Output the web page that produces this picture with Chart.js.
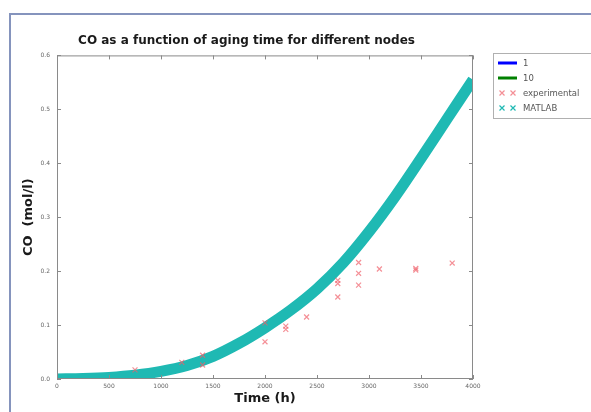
<!DOCTYPE html>
<html>
<head>
<meta charset="utf-8">
<script src="https://cdn.jsdelivr.net/npm/chart.js@4.4.1/dist/chart.umd.min.js"></script>
<style>
  body { margin: 0; background: #fff; }
  #wrap { position: relative; width: 591px; height: 412px; overflow: hidden; }
  #frame { position: absolute; left: 9px; top: 13px; width: 700px; height: 500px;
           border-left: 2px solid #8594bd; border-top: 2px solid #8594bd; pointer-events: none; }
</style>
</head>
<body>
<div id="wrap">
  <canvas id="coChart" width="591" height="412"></canvas>
  <div id="frame"></div>
</div>
<script>
// MATLAB model curve
const matlabTime = [0, 250, 500, 750, 1000, 1250, 1500, 1750, 2000, 2250, 2500, 2750, 3000, 3250, 3500, 3750, 4000];
const matlabCO   = [0.000, 0.001, 0.003, 0.007, 0.014, 0.025, 0.042, 0.066, 0.095, 0.128, 0.167, 0.215, 0.273, 0.338, 0.409, 0.482, 0.555];

// experimental points
const expTime = [750, 1200, 1400, 1400, 2000, 2000, 2200, 2200, 2400, 2700, 2700, 2700, 2900, 2900, 2900, 3100, 3450, 3450, 3800];
const expCO   = [0.017, 0.031, 0.044, 0.026, 0.104, 0.069, 0.098, 0.092, 0.115, 0.183, 0.177, 0.152, 0.216, 0.196, 0.174, 0.204, 0.205, 0.202, 0.215];

// nodes 1 and 10 (hidden under the MATLAB band)
const node1CO = [];
const node10CO = [];

const xTicks = [0, 500, 1000, 1500, 2000, 2500, 3000, 3500, 4000];
const yTicks = [0.0, 0.1, 0.2, 0.3, 0.4, 0.5, 0.6];

const toPoints = (xs, ys) => xs.map((x, i) => ({ x: x, y: ys[i] }));

// plot frame + inward ticks like matplotlib classic
const frameTicks = {
  id: 'frameTicks',
  afterDraw(chart) {
    const { ctx, chartArea: a, scales } = chart;
    ctx.save();
    ctx.strokeStyle = '#8a8a8a';
    ctx.lineWidth = 1;
    ctx.strokeRect(a.left + 0.5, a.top + 0.5, a.right - a.left - 1, a.bottom - a.top - 1);
    ctx.beginPath();
    xTicks.forEach(v => {
      const px = Math.round(scales.x.getPixelForValue(v)) + 0.5;
      ctx.moveTo(px, a.bottom); ctx.lineTo(px, a.bottom - 4);
      ctx.moveTo(px, a.top); ctx.lineTo(px, a.top + 4);
    });
    yTicks.forEach(v => {
      const py = Math.round(scales.y.getPixelForValue(v)) + 0.5;
      ctx.moveTo(a.left, py); ctx.lineTo(a.left + 4, py);
      ctx.moveTo(a.right, py); ctx.lineTo(a.right - 4, py);
    });
    ctx.stroke();
    ctx.restore();
  }
};

// legend box to the right of the plot
const legendBox = {
  id: 'legendBox',
  afterDraw(chart) {
    const ctx = chart.ctx;
    ctx.save();
    ctx.fillStyle = '#fff';
    ctx.strokeStyle = '#b0b0b0';
    ctx.lineWidth = 1;
    ctx.fillRect(493.5, 53.5, 110, 65);
    ctx.strokeRect(493.5, 53.5, 110, 65);
    ctx.font = '8.5px "DejaVu Sans"';
    ctx.textBaseline = 'middle';
    chart.data.datasets.forEach((ds, i) => {
      const y = 63 + i * 15;
      if (ds.legendMarker) {
        ctx.strokeStyle = ds.borderColor;
        ctx.lineWidth = 1.2;
        [502, 513].forEach(cx => {
          ctx.beginPath();
          ctx.moveTo(cx - 2.5, y - 2.5); ctx.lineTo(cx + 2.5, y + 2.5);
          ctx.moveTo(cx - 2.5, y + 2.5); ctx.lineTo(cx + 2.5, y - 2.5);
          ctx.stroke();
        });
      } else {
        ctx.strokeStyle = ds.borderColor;
        ctx.lineWidth = 3;
        ctx.beginPath();
        ctx.moveTo(498, y); ctx.lineTo(517, y);
        ctx.stroke();
      }
      ctx.fillStyle = '#555';
      ctx.fillText(ds.label, 523, y + 0.5);
    });
    ctx.restore();
  }
};

new Chart(document.getElementById('coChart').getContext('2d'), {
  type: 'line',
  data: {
    datasets: [
      { label: '1', data: toPoints([], node1CO), borderColor: '#0000ff', borderWidth: 3, pointRadius: 0, order: 3 },
      { label: '10', data: toPoints([], node10CO), borderColor: '#008000', borderWidth: 3, pointRadius: 0, order: 2 },
      {
        label: 'experimental', data: toPoints(expTime, expCO), showLine: false, legendMarker: true,
        borderColor: 'rgba(240,95,105,0.7)', backgroundColor: 'rgba(240,95,105,0.7)',
        pointStyle: 'crossRot', pointRadius: 3.5, pointBorderWidth: 1.2, order: 0
      },
      {
        label: 'MATLAB', data: toPoints(matlabTime, matlabCO), legendMarker: true,
        borderColor: '#1fb9b3', borderWidth: 11, pointRadius: 0,
        cubicInterpolationMode: 'monotone', order: 1
      }
    ]
  },
  options: {
    responsive: false,
    animation: false,
    layout: { padding: { left: 20, right: 118, top: 0, bottom: 0 } },
    plugins: {
      legend: { display: false },
      tooltip: { enabled: false },
      title: {
        display: true,
        text: 'CO as a function of aging time for different nodes',
        color: '#1a1a1a',
        font: { family: 'DejaVu Sans', size: 12, weight: 'bold' },
        padding: { top: 34, bottom: 7 }
      }
    },
    scales: {
      x: {
        type: 'linear', min: 0, max: 4000,
        afterBuildTicks: s => { s.ticks = xTicks.map(v => ({ value: v })); },
        afterFit: s => { s.height = 33; },
        grid: { display: false, drawTicks: false },
        border: { display: false },
        ticks: { color: '#666', padding: 4, maxRotation: 0, font: { family: 'DejaVu Sans', size: 6 },
                 callback: v => String(v) },
        title: {
          display: true, text: 'Time (h)', color: '#1a1a1a',
          font: { family: 'DejaVu Sans', size: 13, weight: 'bold' },
          padding: { top: 0, bottom: 6 }
        }
      },
      y: {
        min: 0, max: 0.6,
        afterBuildTicks: s => { s.ticks = yTicks.map(v => ({ value: v })); },
        afterFit: s => { s.width = 37; },
        grid: { display: false, drawTicks: false },
        border: { display: false },
        ticks: { color: '#666', padding: 7, font: { family: 'DejaVu Sans', size: 6 },
                 callback: v => v.toFixed(1) },
        title: {
          display: true, text: 'CO  (mol/l)', color: '#1a1a1a',
          font: { family: 'DejaVu Sans', size: 13, weight: 'bold' },
          padding: { top: 1, bottom: 0 }
        }
      }
    }
  },
  plugins: [frameTicks, legendBox]
});
</script>
</body>
</html>
